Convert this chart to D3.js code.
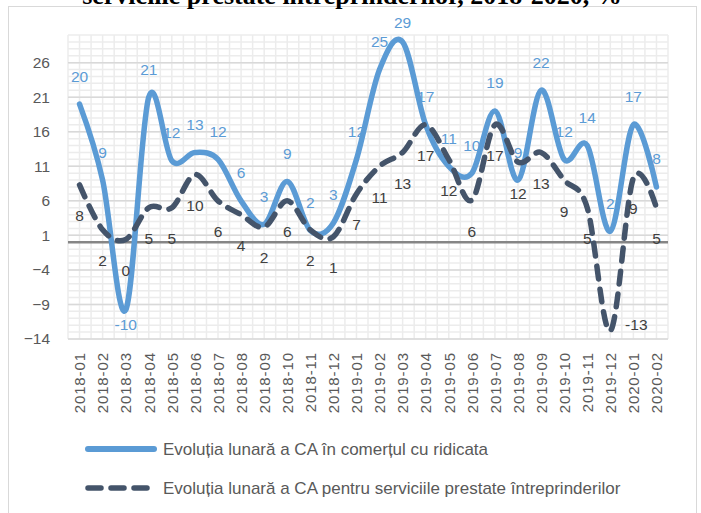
<!DOCTYPE html>
<html>
<head>
<meta charset="utf-8">
<script src="https://cdn.jsdelivr.net/npm/d3@7"></script>
<style>
  html, body { margin: 0; padding: 0; background: #fff; }
  svg { display: block; }
  text { font-family: "Liberation Sans", Arial, sans-serif; }
</style>
</head>
<body>
<svg></svg>
<script>
const months = [
  "2018-01", "2018-02", "2018-03", "2018-04", "2018-05", "2018-06",
  "2018-07", "2018-08", "2018-09", "2018-10", "2018-11", "2018-12",
  "2019-01", "2019-02", "2019-03", "2019-04", "2019-05", "2019-06",
  "2019-07", "2019-08", "2019-09", "2019-10", "2019-11", "2019-12",
  "2020-01", "2020-02"
];
// Evoluția lunară a CA în comerțul cu ridicata
const ridicata = [20, 9, -9.8, 21, 11.8, 13, 12, 6, 2.6, 8.8, 1.7, 2.8,
  12, 25, 29, 17, 11, 10, 19, 9, 22, 12, 14, 1.6, 17, 8];
// Evoluția lunară a CA pentru serviciile prestate întreprinderilor
const servicii = [8.3, 1.8, 0.4, 5, 5, 9.8, 6, 4, 2.2, 6, 1.8, 0.8,
  7, 11, 13, 17, 12, 6.1, 17, 11.6, 13, 9, 5, -12.8, 9.3, 5];
const yTicks = [-14, -9, -4, 1, 6, 11, 16, 21, 26];
const seriesNames = [
  "Evoluția lunară a CA în comerțul cu ridicata",
  "Evoluția lunară a CA pentru serviciile prestate întreprinderilor"
];
const titleText = "serviciile prestate întreprinderilor, 2018-2020, %";

const full_width = 701;
const full_height = 513;
const plot = { left: 68, right: 668, top: 35, bottom: 339 };
const blue = "#5b9bd5";
const navy = "#44546a";
const textGray = "#595959";

const svg = d3.select("svg")
  .attr("width", full_width)
  .attr("height", full_height);

// chart frame (bottom edge lies below the picture)
svg.append("rect")
  .attr("x", 8.5).attr("y", 6.5)
  .attr("width", 688).attr("height", 530)
  .attr("fill", "#fff")
  .attr("stroke", "#d9d9d9");

// title, mostly cut off at the top
svg.append("text")
  .attr("x", 352).attr("y", 4)
  .attr("text-anchor", "middle")
  .style("font-family", "'Liberation Serif', serif")
  .style("font-weight", "bold")
  .style("font-size", "26px")
  .attr("fill", "#000")
  .text(titleText);

const xScale = d3.scalePoint()
  .domain(months)
  .range([plot.left, plot.right])
  .padding(0.5);
const step = xScale.step();

const yScale = d3.scaleLinear()
  .domain([-14, 30])
  .range([plot.bottom, plot.top]);

const chart = svg.append("g");

// minor grid
chart.append("g")
  .selectAll("line")
  .data(d3.range(-14, 31))
  .join("line")
  .attr("x1", plot.left).attr("x2", plot.right)
  .attr("y1", (d) => yScale(d)).attr("y2", (d) => yScale(d))
  .attr("stroke", "#ececec").attr("stroke-width", 1.5);

chart.append("g")
  .selectAll("line")
  .data(d3.range(0, months.length * 2 + 1))
  .join("line")
  .attr("x1", (k) => plot.left + (k * step) / 2)
  .attr("x2", (k) => plot.left + (k * step) / 2)
  .attr("y1", plot.top).attr("y2", plot.bottom)
  .attr("stroke", "#ececec").attr("stroke-width", 1.5);

// major grid
chart.append("g")
  .selectAll("line")
  .data(yTicks)
  .join("line")
  .attr("x1", plot.left).attr("x2", plot.right)
  .attr("y1", (d) => yScale(d)).attr("y2", (d) => yScale(d))
  .attr("stroke", "#d9d9d9").attr("stroke-width", 1.5);

// zero line (horizontal axis crosses at 0)
chart.append("line")
  .attr("x1", plot.left).attr("x2", plot.right)
  .attr("y1", yScale(0)).attr("y2", yScale(0))
  .attr("stroke", "#868686").attr("stroke-width", 2.5);

// y axis
const yAxisG = chart.append("g")
  .attr("transform", `translate(${plot.left},0)`)
  .call(d3.axisLeft(yScale).tickValues(yTicks).tickSize(0).tickPadding(18));
yAxisG.select(".domain").remove();
yAxisG.selectAll("text")
  .attr("fill", textGray)
  .style("font-size", "15.5px")
  .style("font-family", "'Liberation Sans', Arial, sans-serif");

// x axis, labels rotated
const xAxisG = chart.append("g")
  .attr("transform", `translate(0,${plot.bottom})`)
  .call(d3.axisBottom(xScale).tickSize(0));
xAxisG.select(".domain").remove();
xAxisG.selectAll("text")
  .attr("transform", "rotate(-90)")
  .attr("x", -13).attr("y", 0).attr("dy", "0.35em")
  .attr("text-anchor", "end")
  .attr("fill", textGray)
  .style("font-size", "15px")
  .style("letter-spacing", "0.9px")
  .style("font-family", "'Liberation Sans', Arial, sans-serif");

const line = d3.line()
  .x((d, i) => xScale(months[i]))
  .y((d) => yScale(d))
  .curve(d3.curveCardinal.tension(0));

chart.append("path")
  .datum(ridicata)
  .attr("d", line)
  .attr("fill", "none")
  .attr("stroke", blue)
  .attr("stroke-width", 5.5)
  .attr("stroke-linecap", "round")
  .attr("stroke-linejoin", "round");

chart.append("path")
  .datum(servicii)
  .attr("d", line)
  .attr("fill", "none")
  .attr("stroke", navy)
  .attr("stroke-width", 5.5)
  .attr("stroke-dasharray", "13,10")
  .attr("stroke-linecap", "round")
  .attr("stroke-linejoin", "round");

// data labels
const blueNudge = { 2: [0, 15], 14: [0, -19] };
const navyNudge = { 23: [26, -6] };

chart.append("g")
  .selectAll("text")
  .data(ridicata)
  .join("text")
  .attr("x", (d, i) => xScale(months[i]) + (blueNudge[i] ? blueNudge[i][0] : 0))
  .attr("y", (d, i) => yScale(d) + (blueNudge[i] ? blueNudge[i][1] : -28))
  .attr("dy", "0.35em")
  .attr("text-anchor", "middle")
  .attr("fill", blue)
  .style("font-size", "15.5px")
  .text((d) => d3.format(".0f")(d).replace("−", "-"));

chart.append("g")
  .selectAll("text")
  .data(servicii)
  .join("text")
  .attr("x", (d, i) => xScale(months[i]) + (navyNudge[i] ? navyNudge[i][0] : 0))
  .attr("y", (d, i) => yScale(d) + (navyNudge[i] ? navyNudge[i][1] : 31))
  .attr("dy", "0.35em")
  .attr("text-anchor", "middle")
  .attr("fill", "#404040")
  .style("font-size", "15.5px")
  .text((d) => d3.format(".0f")(d).replace("−", "-"));

// legend
const legend = svg.append("g");
const legendRows = [
  { name: seriesNames[0], color: blue, dash: null, y: 449, x2: 157 },
  { name: seriesNames[1], color: navy, dash: "13,10", y: 488, x2: 151 }
];
legendRows.forEach((r) => {
  legend.append("line")
    .attr("x1", 88).attr("x2", r.x2 - 3)
    .attr("y1", r.y).attr("y2", r.y)
    .attr("stroke", r.color)
    .attr("stroke-width", r.dash ? 5.5 : 6)
    .attr("stroke-linecap", "round")
    .attr("stroke-dasharray", r.dash);
  legend.append("text")
    .attr("x", 163).attr("y", r.y)
    .attr("dy", "0.35em")
    .attr("fill", textGray)
    .style("font-size", "17px")
    .text(r.name);
});
</script>
</body>
</html>
